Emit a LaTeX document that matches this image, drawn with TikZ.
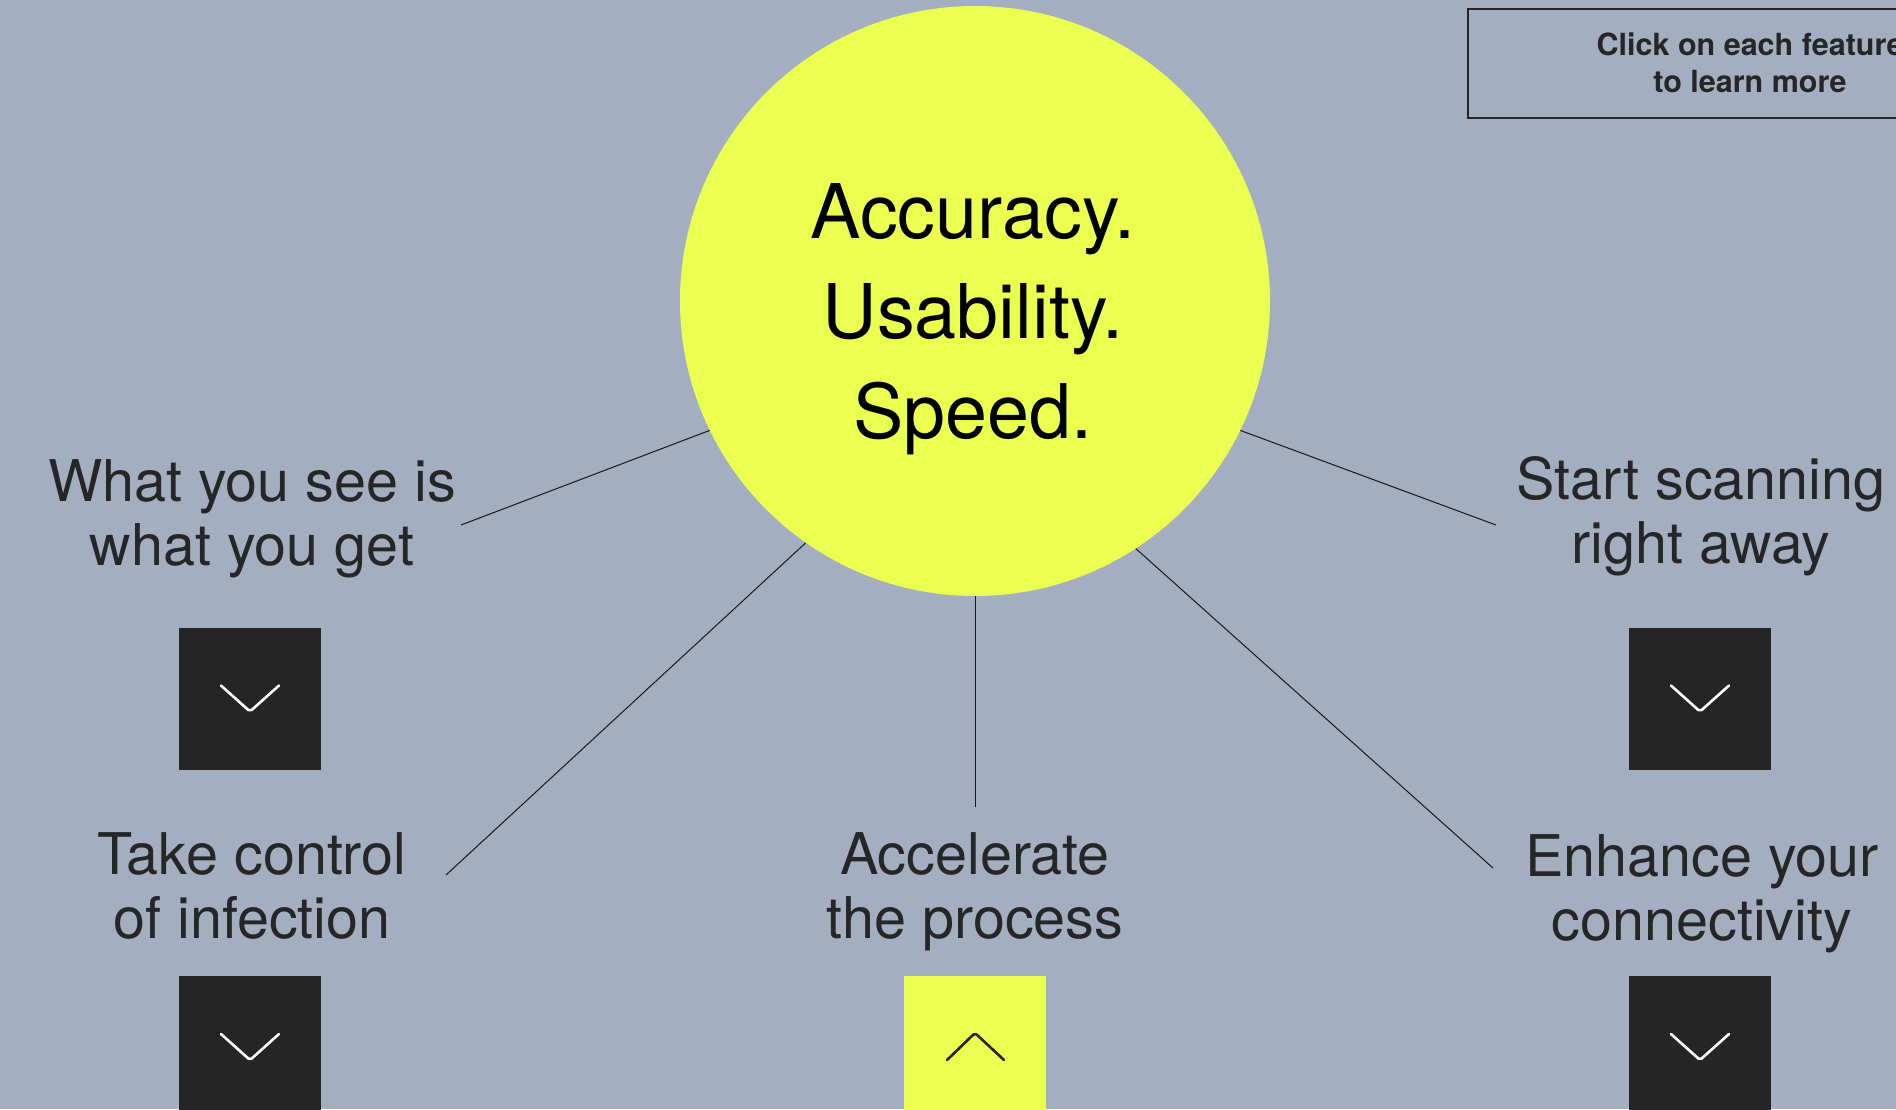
\documentclass[tikz,border=0pt]{standalone}
\usepackage{fontspec}
\setmainfont{TeX Gyre Heros}
\definecolor{bg}{HTML}{A3AEC1}
\definecolor{lime}{HTML}{EBFF50}
\definecolor{darkbox}{HTML}{252525}
\definecolor{ink}{HTML}{262626}
\begin{document}
\begin{tikzpicture}[x=1pt,y=-1pt,
  label/.style={align=center,anchor=base,text=ink,inner sep=0pt,font={\fontsize{57.5}{64}\selectfont}},
  btn/.style={minimum width=142pt,minimum height=142pt,inner sep=0pt,draw=none},
  chev/.style={line width=2.6pt,line join=round,line cap=round,rounded corners=2pt},
  conn/.style={line width=1pt,draw=black!90}]
\useasboundingbox (0,0) rectangle (1896,1109);
\clip (0,0) rectangle (1896,1109);
\fill[bg] (0,0) rectangle (1896,1109);

\node[circle,minimum size=590pt,inner sep=0pt,fill=lime] (c) at (975,301) {};
\coordinate (e1) at (461,525);
\coordinate (e2) at (446,875);
\coordinate (e3) at (975,807);
\coordinate (e4) at (1493,868);
\coordinate (e5) at (1496,525);
\draw[conn] (c.206.5) -- (e1);
\draw[conn] (c.235.9) -- (e2);
\draw[conn] (c.270) -- (e3);
\draw[conn] (c.303.8) -- (e4);
\draw[conn] (c.334) -- (e5);

\node[align=center,anchor=base,inner sep=0pt,text=black,font={\fontsize{75.5}{100}\selectfont}] (ctext) at (973,438) {Accuracy.\\Usability.\\Speed.};

% info box
\draw[line width=2pt,draw=darkbox] (1468,9) rectangle (1920,118);
\node[align=center,anchor=base,inner sep=0pt,text=ink,font={\bfseries\fontsize{30.5}{37}\selectfont}] (info) at (1750,92) {Click on each feature\\to learn more};

% labels
\node[label] (l1) at (252,565) {What you see is\\what you get};
\node[label] (l2) at (1701,563) {Start scanning\\right away};
\node[label] (l3) at (252,938) {Take control\\of infection};
\node[label] (l4) at (975,938) {Accelerate\\the process};
\node[label] (l5) at (1702,940) {Enhance your\\connectivity};

% buttons
\node[btn,fill=darkbox] (b1) at (250,698.5) {};
\node[btn,fill=darkbox] (b2) at (1700,698.5) {};
\node[btn,fill=darkbox] (b3) at (250,1047) {};
\node[btn,fill=lime] (b4) at (975,1047) {};
\node[btn,fill=darkbox] (b5) at (1700,1047) {};

\foreach \b in {b1,b2,b3,b5}{
  \draw[chev,white] ([shift={(-29,-13)}]\b.center) -- ([shift={(0,13)}]\b.center) -- ([shift={(29,-13)}]\b.center);
}
\draw[chev,darkbox] ([shift={(-28,13)}]b4.center) -- ([shift={(0,-14)}]b4.center) -- ([shift={(29,13)}]b4.center);
\end{tikzpicture}
\end{document}
